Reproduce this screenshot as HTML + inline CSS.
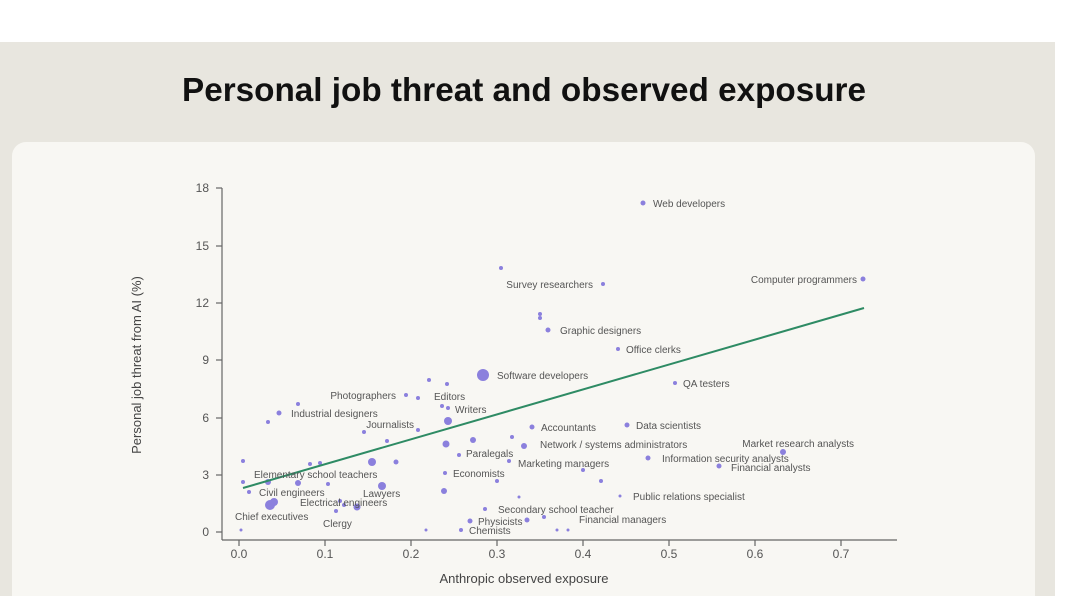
<!DOCTYPE html>
<html><head><meta charset="utf-8"><style>
html,body{margin:0;padding:0;background:#fff;}
svg{display:block;font-family:"Liberation Sans",sans-serif;}
</style></head><body>
<svg width="1080" height="596" viewBox="0 0 1080 596" xmlns="http://www.w3.org/2000/svg">
<rect x="0" y="42" width="1055" height="554" fill="#e8e6df"/>
<rect x="12" y="142" width="1023" height="470" rx="14" fill="#f8f7f3"/>
<text x="524" y="101" text-anchor="middle" font-size="33" font-weight="bold" fill="#111" textLength="684" lengthAdjust="spacingAndGlyphs">Personal job threat and observed exposure</text>
<g stroke="#666" stroke-width="1.2" fill="none">
<line x1="222" y1="188" x2="222" y2="540"/>
<line x1="222" y1="540" x2="897" y2="540"/>
<line x1="216" y1="188" x2="222" y2="188"/><line x1="216" y1="246" x2="222" y2="246"/><line x1="216" y1="303" x2="222" y2="303"/><line x1="216" y1="360" x2="222" y2="360"/><line x1="216" y1="418" x2="222" y2="418"/><line x1="216" y1="475" x2="222" y2="475"/><line x1="216" y1="532" x2="222" y2="532"/>
<line x1="239" y1="540" x2="239" y2="546"/><line x1="325" y1="540" x2="325" y2="546"/><line x1="411" y1="540" x2="411" y2="546"/><line x1="497" y1="540" x2="497" y2="546"/><line x1="583" y1="540" x2="583" y2="546"/><line x1="669" y1="540" x2="669" y2="546"/><line x1="755" y1="540" x2="755" y2="546"/><line x1="841" y1="540" x2="841" y2="546"/>
</g>
<g font-size="12" fill="#555" text-anchor="end">
<text x="209" y="192">18</text><text x="209" y="250">15</text><text x="209" y="307">12</text><text x="209" y="364">9</text><text x="209" y="422">6</text><text x="209" y="479">3</text><text x="209" y="536">0</text>
</g>
<g font-size="12" fill="#555" text-anchor="middle">
<text x="239" y="558">0.0</text><text x="325" y="558">0.1</text><text x="411" y="558">0.2</text><text x="497" y="558">0.3</text><text x="583" y="558">0.4</text><text x="669" y="558">0.5</text><text x="755" y="558">0.6</text><text x="841" y="558">0.7</text>
</g>
<text x="524" y="583" font-size="13" fill="#444" text-anchor="middle">Anthropic observed exposure</text>
<text transform="translate(141,365) rotate(-90)" font-size="13" fill="#444" text-anchor="middle">Personal job threat from AI (%)</text>
<g fill="#8b80dd">
<circle cx="643" cy="203" r="2.5"/><circle cx="863" cy="279" r="2.5"/><circle cx="501" cy="268" r="2"/><circle cx="603" cy="284" r="2"/>
<circle cx="540" cy="314" r="2"/><circle cx="540" cy="318" r="2"/><circle cx="548" cy="330" r="2.5"/><circle cx="618" cy="349" r="2"/>
<circle cx="483" cy="375" r="6"/><circle cx="675" cy="383" r="2"/><circle cx="429" cy="380" r="2"/><circle cx="447" cy="384" r="2"/>
<circle cx="406" cy="395" r="2"/><circle cx="418" cy="398" r="2"/><circle cx="298" cy="404" r="2"/><circle cx="279" cy="413" r="2.5"/>
<circle cx="442" cy="406" r="2"/><circle cx="448" cy="408" r="2"/><circle cx="268" cy="422" r="2"/><circle cx="448" cy="421" r="4"/>
<circle cx="418" cy="430" r="2"/><circle cx="364" cy="432" r="2"/><circle cx="532" cy="427" r="2.5"/><circle cx="627" cy="425" r="2.5"/>
<circle cx="387" cy="441" r="2"/><circle cx="446" cy="444" r="3.5"/><circle cx="473" cy="440" r="3"/><circle cx="512" cy="437" r="2"/><circle cx="524" cy="446" r="3"/>
<circle cx="783" cy="452" r="3"/><circle cx="459" cy="455" r="2"/><circle cx="509" cy="461" r="2"/><circle cx="583" cy="470" r="2"/><circle cx="601" cy="481" r="2"/>
<circle cx="243" cy="461" r="2"/><circle cx="310" cy="464" r="2"/><circle cx="320" cy="463" r="2"/><circle cx="372" cy="462" r="4"/><circle cx="396" cy="462" r="2.5"/>
<circle cx="648" cy="458" r="2.5"/><circle cx="719" cy="466" r="2.5"/><circle cx="445" cy="473" r="2"/><circle cx="497" cy="481" r="2"/>
<circle cx="243" cy="482" r="2"/><circle cx="268" cy="482" r="3"/><circle cx="298" cy="483" r="3"/><circle cx="328" cy="484" r="2"/>
<circle cx="249" cy="492" r="2"/><circle cx="382" cy="486" r="4"/><circle cx="444" cy="491" r="3"/><circle cx="519" cy="497" r="1.5"/><circle cx="620" cy="496" r="1.5"/>
<circle cx="270" cy="505" r="5"/><circle cx="274" cy="502" r="4"/><circle cx="340" cy="501" r="2"/><circle cx="344" cy="505" r="2"/><circle cx="357" cy="507" r="3.5"/><circle cx="336" cy="511" r="2"/>
<circle cx="485" cy="509" r="2"/><circle cx="470" cy="521" r="2.5"/><circle cx="527" cy="520" r="2.5"/><circle cx="544" cy="517" r="2"/>
<circle cx="241" cy="530" r="1.5"/><circle cx="426" cy="530" r="1.5"/><circle cx="461" cy="530" r="2"/><circle cx="557" cy="530" r="1.5"/><circle cx="568" cy="530" r="1.5"/>
</g>
<line x1="243" y1="488" x2="864" y2="308" stroke="#2e8b64" stroke-width="2"/>
<g font-size="10" fill="#555">
<text x="653" y="207">Web developers</text>
<text x="857" y="283" text-anchor="end">Computer programmers</text>
<text x="593" y="288" text-anchor="end">Survey researchers</text>
<text x="560" y="334">Graphic designers</text>
<text x="626" y="353">Office clerks</text>
<text x="497" y="379">Software developers</text>
<text x="683" y="387">QA testers</text>
<text x="396" y="399" text-anchor="end">Photographers</text>
<text x="434" y="400">Editors</text>
<text x="291" y="417">Industrial designers</text>
<text x="455" y="413">Writers</text>
<text x="414" y="428" text-anchor="end">Journalists</text>
<text x="541" y="431">Accountants</text>
<text x="636" y="429">Data scientists</text>
<text x="540" y="448">Network / systems administrators</text>
<text x="854" y="447" text-anchor="end">Market research analysts</text>
<text x="466" y="457">Paralegals</text>
<text x="518" y="467">Marketing managers</text>
<text x="662" y="462">Information security analysts</text>
<text x="731" y="471">Financial analysts</text>
<text x="254" y="478">Elementary school teachers</text>
<text x="453" y="477">Economists</text>
<text x="259" y="496">Civil engineers</text>
<text x="363" y="497">Lawyers</text>
<text x="633" y="500">Public relations specialist</text>
<text x="300" y="506">Electrical engineers</text>
<text x="498" y="513">Secondary school teacher</text>
<text x="235" y="520">Chief executives</text>
<text x="579" y="523">Financial managers</text>
<text x="323" y="527">Clergy</text>
<text x="478" y="525">Physicists</text>
<text x="469" y="534">Chemists</text>
</g>
</svg>
</body></html>
